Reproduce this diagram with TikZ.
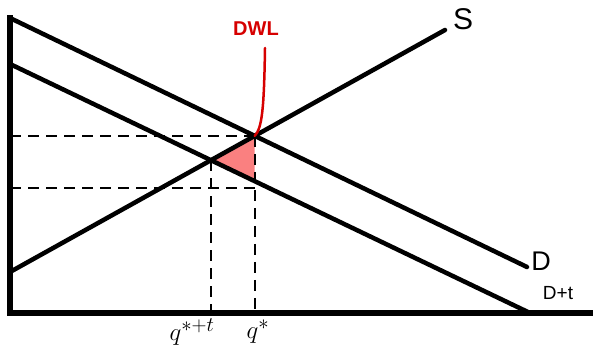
\documentclass[tikz,border=0pt]{standalone}
\usepackage{fontspec}
\setmainfont{Liberation Sans}
\usetikzlibrary{calc}
\definecolor{dwlred}{RGB}{214,0,0}
\definecolor{dwlfill}{RGB}{250,128,128}
\begin{document}
\begin{tikzpicture}[x=1pt,y=-1pt,
  axis/.style={line width=5.5pt,line cap=rect},
  curve/.style={line width=4.5pt,line cap=round},
  guide/.style={line width=2.2pt,dash pattern=on 11pt off 7pt},
  lbl/.style={font=\fontsize{30}{32}\selectfont,inner sep=0pt}]
\useasboundingbox (0,0) rectangle (593,352);
% axes
\coordinate (Top) at (10,18);
\coordinate (O) at (10,313);
\coordinate (Xend) at (590,313);
\draw[axis] (Top) -- (O) -- (Xend);
% curves
\coordinate (D1) at (10,18);
\coordinate (D2) at (527,267);
\coordinate (T1) at (10,64);
\coordinate (T2) at (530,313);
\coordinate (S1) at (10,272);
\coordinate (S2) at (445,30);
\coordinate (E1) at (intersection of D1--D2 and S1--S2);
\coordinate (E2) at (intersection of T1--T2 and S1--S2);
\coordinate (E1b) at ($(E1)+(0,100)$);
\coordinate (E3) at (intersection of T1--T2 and E1--E1b);
% deadweight loss triangle
\fill[dwlfill] (E2) -- (E1) -- (E3) -- cycle;
% guides
\coordinate (Y1) at (O |- E1);
\coordinate (Y2) at (10,188);
\coordinate (G2) at (E1 |- Y2);
\coordinate (Q1) at (O -| E2);
\coordinate (Q2) at (O -| E1);
\draw[guide] (Y1) -- (E1);
\draw[guide] (Y2) -- (G2);
\draw[guide] (E2) -- (Q1);
\draw[guide] (E1) -- (Q2);
\draw[curve] (D1) -- (D2);
\draw[curve] (T1) -- (T2);
\draw[curve] (S1) -- (S2);
% labels
\node[lbl] (S) at (463,19) {S};
\node[lbl,font=\fontsize{27}{29}\selectfont] (D) at (541,261) {D};
\node[lbl,font=\fontsize{19}{21}\selectfont] (Dt) at (558,293) {D+t};
\node[lbl,text=dwlred,font=\fontsize{20}{22}\selectfont\bfseries] (DWL) at (256,29) {DWL};
\node[lbl,font=\fontsize{28}{30}\selectfont] (q1) at (192,332) {$q^{*+t}$};
\node[lbl,font=\fontsize{28}{30}\selectfont] (q2) at (258,332) {$q^{*}$};
% DWL pointer
\coordinate (P1) at (265,48);
\draw[dwlred,line width=2.5pt,line cap=round] (P1) .. controls (264,110) and (262,128) .. (E1);
\end{tikzpicture}
\end{document}
